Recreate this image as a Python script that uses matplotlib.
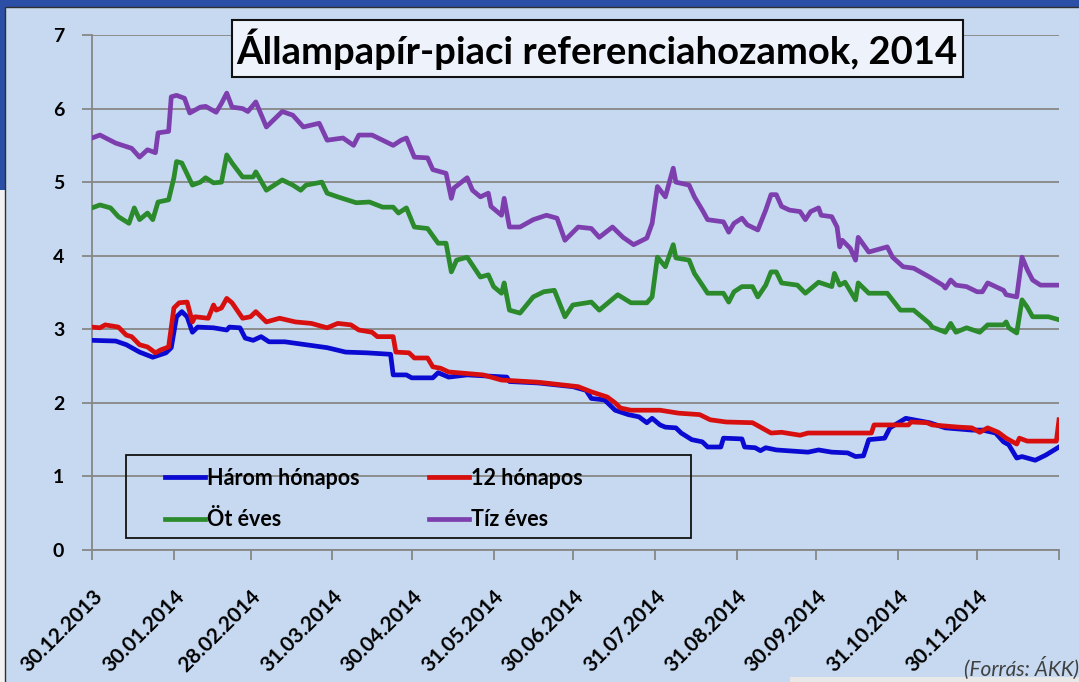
import pandas as pd
import matplotlib.pyplot as plt
from matplotlib.patches import Rectangle

W, H = 1079, 682
FONT = ['Lato', 'DejaVu Sans']

title = 'Állampapír-piaci referenciahozamok, 2014'
source = '(Forrás: ÁKK)'
tick_labels = ['30.12.2013', '30.01.2014', '28.02.2014', '31.03.2014', '30.04.2014',
               '31.05.2014', '30.06.2014', '31.07.2014', '31.08.2014', '30.09.2014',
               '31.10.2014', '30.11.2014']
last_tick = '31.12.2014'  # osztásjel felirat nélkül
series_names = ['Három hónapos', '12 hónapos', 'Öt éves', 'Tíz éves']
colors = ['#0a0ad2', '#d80f0f', '#2b8a2b', '#7e3fae']

# Három hónapos
blue_dates = ['2013-12-30', '2014-01-08', '2014-01-12', '2014-01-17', '2014-01-22', '2014-01-27',
              '2014-01-29', '2014-01-31', '2014-02-02', '2014-02-04', '2014-02-06', '2014-02-08',
              '2014-02-14', '2014-02-19', '2014-02-20', '2014-02-24', '2014-02-26', '2014-03-01',
              '2014-03-04', '2014-03-07', '2014-03-13', '2014-03-21', '2014-03-29', '2014-04-05',
              '2014-04-13', '2014-04-22', '2014-04-23', '2014-04-28', '2014-04-30', '2014-05-08',
              '2014-05-10', '2014-05-14', '2014-05-21', '2014-06-05', '2014-06-06', '2014-06-17',
              '2014-06-30', '2014-07-05', '2014-07-07', '2014-07-12', '2014-07-16', '2014-07-21',
              '2014-07-25', '2014-07-28', '2014-07-30', '2014-08-02', '2014-08-04', '2014-08-08',
              '2014-08-10', '2014-08-14', '2014-08-18', '2014-08-20', '2014-08-25', '2014-08-26',
              '2014-09-02', '2014-09-03', '2014-09-07', '2014-09-09', '2014-09-11', '2014-09-15',
              '2014-09-27', '2014-10-01', '2014-10-06', '2014-10-12', '2014-10-15', '2014-10-18',
              '2014-10-20', '2014-10-26', '2014-10-28', '2014-11-03', '2014-11-12', '2014-11-18',
              '2014-11-28', '2014-12-02', '2014-12-07', '2014-12-10', '2014-12-12', '2014-12-15',
              '2014-12-17', '2014-12-22', '2014-12-26', '2014-12-31']
blue = [2.85, 2.84, 2.79, 2.69, 2.62, 2.68,
        2.75, 3.17, 3.24, 3.17, 2.96, 3.03,
        3.02, 2.99, 3.03, 3.02, 2.88, 2.85,
        2.90, 2.83, 2.83, 2.79, 2.75, 2.69,
        2.68, 2.66, 2.38, 2.38, 2.34, 2.34,
        2.41, 2.35, 2.38, 2.35, 2.29, 2.27,
        2.22, 2.17, 2.06, 2.04, 1.90, 1.84,
        1.81, 1.73, 1.79, 1.70, 1.67, 1.66,
        1.59, 1.50, 1.47, 1.40, 1.40, 1.52,
        1.51, 1.40, 1.39, 1.35, 1.39, 1.36,
        1.33, 1.36, 1.33, 1.32, 1.27, 1.28,
        1.50, 1.52, 1.66, 1.79, 1.73, 1.66,
        1.63, 1.63, 1.59, 1.47, 1.43, 1.25,
        1.27, 1.22, 1.29, 1.40]

# 12 hónapos
red_dates = ['2013-12-30', '2014-01-02', '2014-01-04', '2014-01-09', '2014-01-12', '2014-01-14',
             '2014-01-17', '2014-01-20', '2014-01-23', '2014-01-25', '2014-01-28', '2014-01-30',
             '2014-02-01', '2014-02-04', '2014-02-06', '2014-02-07', '2014-02-12', '2014-02-14',
             '2014-02-15', '2014-02-17', '2014-02-19', '2014-02-21', '2014-02-25', '2014-02-28',
             '2014-03-02', '2014-03-06', '2014-03-11', '2014-03-17', '2014-03-23', '2014-03-29',
             '2014-04-02', '2014-04-07', '2014-04-10', '2014-04-15', '2014-04-17', '2014-04-23',
             '2014-04-24', '2014-04-29', '2014-05-01', '2014-05-06', '2014-05-08', '2014-05-11',
             '2014-05-14', '2014-05-27', '2014-06-03', '2014-06-17', '2014-07-02', '2014-07-07',
             '2014-07-13', '2014-07-16', '2014-07-18', '2014-07-22', '2014-08-02', '2014-08-09',
             '2014-08-17', '2014-08-21', '2014-08-27', '2014-09-06', '2014-09-09', '2014-09-13',
             '2014-09-17', '2014-09-24', '2014-09-27', '2014-10-21', '2014-10-22', '2014-11-04',
             '2014-11-05', '2014-11-11', '2014-11-13', '2014-11-23', '2014-11-28', '2014-12-01',
             '2014-12-04', '2014-12-08', '2014-12-11', '2014-12-15', '2014-12-16', '2014-12-19',
             '2014-12-30', '2014-12-31']
red = [3.03, 3.02, 3.06, 3.03, 2.92, 2.90,
       2.79, 2.76, 2.68, 2.72, 2.76, 3.29,
       3.36, 3.37, 3.10, 3.17, 3.15, 3.33,
       3.26, 3.29, 3.42, 3.36, 3.15, 3.17,
       3.24, 3.10, 3.15, 3.10, 3.08, 3.02,
       3.08, 3.06, 2.99, 2.96, 2.90, 2.90,
       2.69, 2.68, 2.61, 2.61, 2.49, 2.47,
       2.42, 2.38, 2.31, 2.28, 2.22, 2.15,
       2.08, 2.00, 1.93, 1.90, 1.90, 1.86,
       1.84, 1.77, 1.74, 1.73, 1.67, 1.59,
       1.60, 1.56, 1.59, 1.59, 1.70, 1.70,
       1.74, 1.73, 1.70, 1.67, 1.66, 1.60,
       1.66, 1.60, 1.52, 1.44, 1.52, 1.48,
       1.48, 1.77]

# Öt éves
green_dates = ['2013-12-30', '2014-01-02', '2014-01-06', '2014-01-09', '2014-01-13', '2014-01-15',
               '2014-01-17', '2014-01-20', '2014-01-22', '2014-01-24', '2014-01-28', '2014-01-30',
               '2014-01-31', '2014-02-02', '2014-02-06', '2014-02-09', '2014-02-11', '2014-02-14',
               '2014-02-17', '2014-02-19', '2014-02-21', '2014-02-25', '2014-03-01', '2014-03-02',
               '2014-03-06', '2014-03-09', '2014-03-12', '2014-03-16', '2014-03-19', '2014-03-21',
               '2014-03-27', '2014-03-29', '2014-04-02', '2014-04-09', '2014-04-14', '2014-04-19',
               '2014-04-23', '2014-04-25', '2014-04-28', '2014-05-01', '2014-05-06', '2014-05-10',
               '2014-05-13', '2014-05-15', '2014-05-17', '2014-05-21', '2014-05-26', '2014-05-29',
               '2014-05-31', '2014-06-03', '2014-06-04', '2014-06-06', '2014-06-10', '2014-06-15',
               '2014-06-19', '2014-06-23', '2014-06-27', '2014-06-30', '2014-07-07', '2014-07-10',
               '2014-07-17', '2014-07-22', '2014-07-28', '2014-07-30', '2014-08-01', '2014-08-04',
               '2014-08-07', '2014-08-08', '2014-08-13', '2014-08-15', '2014-08-18', '2014-08-20',
               '2014-08-26', '2014-08-28', '2014-08-30', '2014-09-02', '2014-09-06', '2014-09-08',
               '2014-09-11', '2014-09-13', '2014-09-15', '2014-09-17', '2014-09-23', '2014-09-26',
               '2014-10-01', '2014-10-06', '2014-10-07', '2014-10-09', '2014-10-11', '2014-10-15',
               '2014-10-16', '2014-10-20', '2014-10-27', '2014-11-01', '2014-11-06', '2014-11-12',
               '2014-11-13', '2014-11-18', '2014-11-20', '2014-11-22', '2014-11-26', '2014-12-01',
               '2014-12-04', '2014-12-10', '2014-12-11', '2014-12-12', '2014-12-15', '2014-12-17',
               '2014-12-19', '2014-12-21', '2014-12-27', '2014-12-31']
green = [4.65, 4.69, 4.65, 4.53, 4.44, 4.65,
         4.49, 4.58, 4.49, 4.73, 4.76, 5.06,
         5.28, 5.26, 4.96, 5.00, 5.06, 4.99,
         5.00, 5.37, 5.26, 5.07, 5.07, 5.14,
         4.89, 4.96, 5.03, 4.96, 4.89, 4.96,
         5.00, 4.85, 4.80, 4.72, 4.73, 4.66,
         4.66, 4.58, 4.65, 4.39, 4.37, 4.17,
         4.17, 3.78, 3.94, 3.98, 3.71, 3.74,
         3.58, 3.49, 3.63, 3.26, 3.22, 3.44,
         3.51, 3.53, 3.17, 3.33, 3.37, 3.26,
         3.47, 3.36, 3.36, 3.44, 3.98, 3.85,
         4.15, 3.97, 3.94, 3.76, 3.60, 3.49,
         3.49, 3.37, 3.51, 3.58, 3.58, 3.44,
         3.60, 3.78, 3.78, 3.63, 3.60, 3.49,
         3.64, 3.58, 3.76, 3.60, 3.64, 3.40,
         3.63, 3.49, 3.49, 3.26, 3.26, 3.08,
         3.03, 2.96, 3.08, 2.96, 3.02, 2.96,
         3.06, 3.06, 3.10, 3.02, 2.95, 3.40,
         3.30, 3.17, 3.17, 3.13]

# Tíz éves
purple_dates = ['2013-12-30', '2014-01-02', '2014-01-08', '2014-01-14', '2014-01-17', '2014-01-20',
                '2014-01-23', '2014-01-24', '2014-01-28', '2014-01-29', '2014-01-31', '2014-02-03',
                '2014-02-05', '2014-02-09', '2014-02-11', '2014-02-15', '2014-02-17', '2014-02-19',
                '2014-02-21', '2014-02-25', '2014-02-27', '2014-03-02', '2014-03-06', '2014-03-12',
                '2014-03-16', '2014-03-20', '2014-03-26', '2014-03-29', '2014-04-04', '2014-04-08',
                '2014-04-10', '2014-04-15', '2014-04-23', '2014-04-26', '2014-04-28', '2014-05-01',
                '2014-05-06', '2014-05-08', '2014-05-13', '2014-05-15', '2014-05-16', '2014-05-21',
                '2014-05-23', '2014-05-26', '2014-05-29', '2014-05-30', '2014-06-03', '2014-06-04',
                '2014-06-06', '2014-06-10', '2014-06-15', '2014-06-20', '2014-06-24', '2014-06-27',
                '2014-07-02', '2014-07-07', '2014-07-10', '2014-07-15', '2014-07-19', '2014-07-23',
                '2014-07-28', '2014-07-30', '2014-08-01', '2014-08-04', '2014-08-07', '2014-08-08',
                '2014-08-13', '2014-08-15', '2014-08-18', '2014-08-20', '2014-08-26', '2014-08-28',
                '2014-08-30', '2014-09-02', '2014-09-04', '2014-09-08', '2014-09-11', '2014-09-13',
                '2014-09-15', '2014-09-17', '2014-09-20', '2014-09-24', '2014-09-26', '2014-09-28',
                '2014-10-01', '2014-10-02', '2014-10-06', '2014-10-08', '2014-10-09', '2014-10-10',
                '2014-10-13', '2014-10-15', '2014-10-16', '2014-10-20', '2014-10-27', '2014-10-29',
                '2014-11-02', '2014-11-06', '2014-11-12', '2014-11-17', '2014-11-18', '2014-11-20',
                '2014-11-22', '2014-11-26', '2014-11-30', '2014-12-02', '2014-12-04', '2014-12-07',
                '2014-12-10', '2014-12-11', '2014-12-15', '2014-12-16', '2014-12-17', '2014-12-19',
                '2014-12-21', '2014-12-24', '2014-12-31']
purple = [5.60, 5.64, 5.53, 5.46, 5.34, 5.44,
          5.40, 5.67, 5.69, 6.16, 6.18, 6.14,
          5.94, 6.02, 6.03, 5.95, 6.07, 6.21,
          6.02, 6.00, 5.96, 6.09, 5.75, 5.96,
          5.91, 5.75, 5.80, 5.57, 5.60, 5.50,
          5.64, 5.64, 5.50, 5.57, 5.60, 5.34,
          5.33, 5.17, 5.12, 4.78, 4.92, 5.06,
          4.89, 4.80, 4.85, 4.67, 4.55, 4.78,
          4.39, 4.39, 4.49, 4.55, 4.51, 4.21,
          4.39, 4.37, 4.25, 4.39, 4.25, 4.15,
          4.24, 4.44, 4.94, 4.80, 5.19, 5.00,
          4.96, 4.80, 4.62, 4.49, 4.46, 4.32,
          4.44, 4.51, 4.42, 4.35, 4.62, 4.83,
          4.83, 4.67, 4.62, 4.60, 4.49, 4.60,
          4.65, 4.55, 4.53, 4.39, 4.12, 4.21,
          4.10, 3.94, 4.25, 4.05, 4.12, 3.98,
          3.85, 3.83, 3.71, 3.60, 3.56, 3.67,
          3.60, 3.58, 3.51, 3.51, 3.63, 3.58,
          3.53, 3.47, 3.44, 3.71, 3.98, 3.81,
          3.67, 3.60, 3.60]

bg = '#c6d9f0'
grey = '#868686'

fig = plt.figure(figsize=(W / 100, H / 100), dpi=100, facecolor=bg)


# téglalap képpont-koordinátákban (bal felső sarokból)
def px_rect(x, y, w, h, **kw):
    fig.add_artist(Rectangle((x / W, 1 - (y + h) / H), w / W, h / H,
                             transform=fig.transFigure, **kw))


# keret
px_rect(0, 0, W, 7, facecolor='#2b4ea6', edgecolor='none')
px_rect(0, 0, 5, 190, facecolor='#2b4ea6', edgecolor='none')
px_rect(0, 190, 5, H - 190, facecolor='#f2f2f2', edgecolor='none')
px_rect(5, 7, W + 10, H, facecolor='none', edgecolor='#303030', lw=1.0)
px_rect(790, 677, W - 790, 5, facecolor='#e8e8e8', edgecolor='none')

ax = fig.add_axes([92 / W, 1 - 550 / H, (1059 - 92) / W, (550 - 35) / H])
ax.set_facecolor(bg)

all_series = [(blue_dates, blue), (red_dates, red), (green_dates, green), (purple_dates, purple)]
lines = []
for (d, v), c in zip(all_series, colors):
    ln, = ax.plot(pd.to_datetime(d), v, color=c, lw=3.4, solid_joinstyle='round', zorder=3)
    lines.append(ln)

ax.set_ylim(0, 7)
ax.set_xlim(pd.Timestamp('2013-12-30'), pd.Timestamp('2014-12-31'))
ax.set_yticks(range(0, 8))
ax.set_yticklabels([str(i) for i in range(0, 8)], fontweight='bold', fontsize=14, family=FONT)

tick_pos = pd.to_datetime(tick_labels + [last_tick], format='%d.%m.%Y')
ax.set_xticks(tick_pos)
ax.set_xticklabels(tick_labels + [''], rotation=45, ha='right', va='top', rotation_mode='anchor',
                   fontweight='bold', fontsize=15, family=FONT)
ax.tick_params(axis='x', length=7, width=1.3, color=grey, pad=19)
ax.tick_params(axis='y', length=7, width=1.3, color=grey, pad=13)

ax.yaxis.grid(True, color=grey, lw=1.3)
ax.set_axisbelow(True)
for s in ['top', 'right']:
    ax.spines[s].set_visible(False)
for s in ['left', 'bottom']:
    ax.spines[s].set_color(grey)
    ax.spines[s].set_linewidth(1.3)

# cím dobozban
px_rect(232, 20, 731, 57, facecolor='#eef2fa', edgecolor='#111111', lw=1.5, zorder=5)
fig.text(597 / W, 1 - 49 / H, title, ha='center', va='center', fontsize=27.5,
         fontweight='bold', family=FONT, zorder=6)

# jelmagyarázat
px_rect(126, 455, 565, 83, facecolor='none', edgecolor='#111111', lw=1.3, zorder=5)
order = [0, 2, 1, 3]
leg = ax.legend([lines[i] for i in order], [series_names[i] for i in order],
                ncol=2, loc='upper left', bbox_to_anchor=(154 / W, 1 - 457 / H),
                bbox_transform=fig.transFigure, frameon=False, borderpad=0,
                handlelength=1.85, handletextpad=0.1, columnspacing=3.25,
                labelspacing=0.95, prop={'family': FONT, 'weight': 'bold', 'size': 15.5})

fig.text(1079 / W, 1 - 668 / H, source, ha='right', va='center', fontsize=15,
         style='italic', color='#404040', family=FONT)

fig.savefig('out.png', dpi=100, facecolor=bg)
